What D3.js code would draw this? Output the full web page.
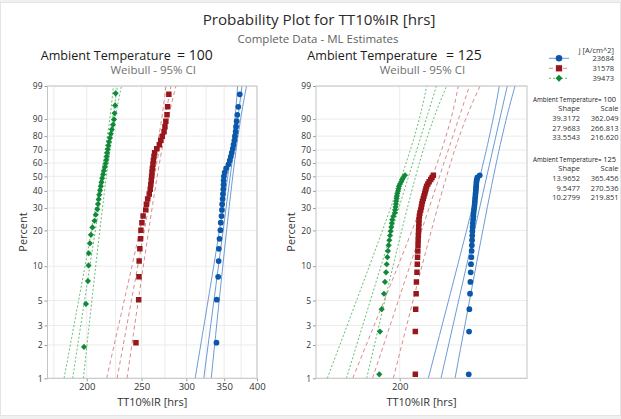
<!DOCTYPE html>
<html>
<head>
<meta charset="utf-8">
<script src="https://cdn.jsdelivr.net/npm/d3@7"></script>
<style>
    body { margin: 0; background: #f0f0f0; }
    text { font-family: "Open Sans", "Noto Sans", sans-serif; }
</style>
</head>
<body>
<script>
//current density groups (legend) and the two ambient temperatures (panels)
var currents = ["23684", "31578", "39473"];
var temps = [100, 125];

//fitted weibull parameters, one per current, as printed in the table
var shape100 = [39.3172, 27.9683, 33.5543];
var scale100 = [362.049, 266.813, 216.620];
var shape125 = [13.9652, 9.5477, 10.2799];
var scale125 = [365.456, 270.536, 219.851];

//failure times [hrs], sorted
var hrs100_23684 = [339.2, 339.6, 341.5, 342.2, 342.5, 343.4, 344.7, 345.2, 346.2, 346.8, 347.1,
    347.8, 348.2, 348.7, 349.0, 349.2, 349.6, 350.8, 352.8, 356.2, 358.0, 359.6, 361.0, 362.5,
    363.6, 364.8, 365.7, 366.7, 367.4, 368.2, 369.2, 370.6, 372.9];
var hrs100_31578 = [244.4, 247.1, 247.4, 247.6, 248.3, 249.0, 249.4, 250.4, 251.6, 254.3, 255.0,
    256.3, 258.0, 259.0, 259.6, 260.1, 260.5, 260.9, 261.3, 261.9, 262.4, 263.0, 263.7, 266.0,
    268.8, 270.3, 272.0, 274.0, 275.0, 276.0, 277.3, 278.0, 279.4];
var hrs100_39473 = [197.8, 199.4, 201.0, 201.5, 201.7, 202.6, 203.5, 204.7, 206.5, 207.5, 208.8,
    209.4, 210.0, 210.5, 211.2, 211.8, 212.4, 213.0, 213.8, 214.5, 215.3, 216.0, 216.6, 217.0,
    217.4, 217.9, 218.4, 219.0, 219.8, 220.6, 221.5, 222.6, 223.5, 224.0, 224.5, 225.0];

//at 125 only the first failures of 64 units are plotted
var units125 = 64;
var hrs125_23684 = [315.9, 316.6, 317.2, 318.6, 319.3, 320.0, 320.6, 321.4, 322.0, 322.5, 322.9,
    323.3, 323.6, 324.0, 324.5, 325.2, 325.8, 326.3, 327.0, 327.8, 328.5, 329.0, 329.4, 330.0,
    330.5, 331.0, 331.4, 331.8, 332.1, 332.5, 333.2, 334.5, 339.8];
var hrs125_31578 = [221.8, 221.8, 222.3, 223.0, 223.4, 224.2, 224.7, 225.1, 225.5, 225.8, 226.0,
    226.3, 226.6, 226.8, 227.1, 227.3, 227.8, 228.6, 229.8, 230.8, 231.6, 232.5, 233.8, 234.9,
    236.0, 237.0, 238.0, 239.0, 241.0, 243.0, 245.6, 247.7, 249.9];
var hrs125_39473 = [174.7, 175.5, 177.5, 180.2, 181.4, 182.7, 183.5, 184.3, 185.1, 185.9, 186.7,
    187.6, 188.4, 189.2, 189.8, 190.4, 191.7, 193.5, 194.0, 194.6, 195.0, 195.5, 195.9, 196.3,
    196.8, 197.8, 198.4, 199.0, 200.4, 202.0, 203.2, 204.8, 207.1];

//95% confidence bounds [hrs] read at these percents
var ciPct = [1, 50, 99];
var ci100Lo = [[311.0, 355.1, 369.6], [216.9, 260.1, 276.1], [182.4, 212.0, 223.0]];
var ci100Hi = [[332.0, 362.4, 383.3], [235.7, 266.5, 287.6], [197.3, 216.7, 230.4]];
var ci125Lo = [[241.7, 340.5, 386.8], [146.5, 248.5, 294.8], [123.8, 202.6, 239.2]];
var ci125Hi = [[288.5, 372.2, 429.2], [191.7, 272.7, 340.4], [160.7, 222.3, 273.0]];

//axis ticks
var yTicks = [1, 2, 3, 5, 10, 20, 30, 40, 50, 60, 70, 80, 90, 99];
var xTicks100 = [200, 250, 300, 350, 400];
var xGrid100 = [175, 200, 225, 250, 275, 300, 325, 350, 375, 400];
var xTicks125 = [200];
var xGrid125 = [200];

//styles per current
var dotColor = ["#0b57a8", "#97171c", "#11883a"];
var lineColor = ["#6b9bd6", "#d98b8b", "#62be6e"];
var lineDash = [null, "4,3", "2,2"];
var symbols = [d3.symbolCircle, d3.symbolSquare, d3.symbolSquare];
var symSize = [26, 30, 19];
var symRotate = [0, 0, 45];

var W = 621, H = 419;
var plotTop = 86, plotBottom = 378.3;

var svg = d3.select("body")
    .append("svg")
    .attr("width", W)
    .attr("height", H);

//window background and white chart area
svg.append("rect")
    .attr("width", W)
    .attr("height", H)
    .attr("fill", "#f0f0f0");
svg.append("rect")
    .attr("x", 0.5)
    .attr("y", 2.5)
    .attr("width", W - 1)
    .attr("height", 413)
    .attr("fill", "#fff")
    .attr("stroke", "#e4e4e4");

//titles
svg.append("text")
    .attr("x", 319)
    .attr("y", 25.3)
    .attr("text-anchor", "middle")
    .style("font-size", "15.2px")
    .style("fill", "#2b2b2b")
    .text("Probability Plot for TT10%IR [hrs]");
svg.append("text")
    .attr("x", 318)
    .attr("y", 42.5)
    .attr("text-anchor", "middle")
    .style("font-size", "11.5px")
    .style("fill", "#5f5f5f")
    .text("Complete Data - ML Estimates");

//weibull probability transform
function wp(p){
    return Math.log(-Math.log(1 - p / 100));
}

var y = d3.scaleLinear()
    .domain([wp(1), wp(99)])
    .range([plotBottom, plotTop]);

var panels = [
    {
        temp: temps[0], left: 47.5, right: 257, domain: [170.5, 400],
        ticks: xTicks100, grid: xGrid100,
        hrs: [hrs100_23684, hrs100_31578, hrs100_39473],
        shape: shape100, scale: scale100, lo: ci100Lo, hi: ci100Hi,
        titleX: 40.7, valueX: 212.7
    },
    {
        temp: temps[1], left: 316, right: 527, domain: [114.9, 464.6],
        ticks: xTicks125, grid: xGrid125,
        hrs: [hrs125_23684, hrs125_31578, hrs125_39473],
        shape: shape125, scale: scale125, lo: ci125Lo, hi: ci125Hi,
        units: units125,
        titleX: 307.3, valueX: 481.7
    }
];

panels.forEach(function(pn, k){
    var x = d3.scaleLog()
        .domain(pn.domain)
        .range([pn.left, pn.right]);
    var g = svg.append("g").attr("class", "panel");
    var mid = (pn.left + pn.right) / 2;

    //panel heading
    g.append("text")
        .attr("x", pn.titleX)
        .attr("y", 59.5)
        .style("font-size", "12.6px")
        .style("fill", "#1a1a1a")
        .text("Ambient Temperature");
    g.append("text")
        .attr("x", pn.valueX)
        .attr("y", 59.5)
        .attr("text-anchor", "end")
        .style("font-size", "14px")
        .style("fill", "#1a1a1a")
        .text("= " + pn.temp);
    g.append("text")
        .attr("x", mid + 1)
        .attr("y", 73.5)
        .attr("text-anchor", "middle")
        .style("font-size", "11.5px")
        .style("fill", "#707070")
        .text("Weibull - 95% CI");

    //gridlines
    g.selectAll(".ygrid")
        .data(yTicks)
        .enter()
        .append("line")
        .attr("x1", pn.left)
        .attr("x2", pn.right)
        .attr("y1", function(d){ return y(wp(d)); })
        .attr("y2", function(d){ return y(wp(d)); })
        .style("stroke", "#ececec");
    g.selectAll(".xgrid")
        .data(pn.grid)
        .enter()
        .append("line")
        .attr("x1", function(d){ return x(d); })
        .attr("x2", function(d){ return x(d); })
        .attr("y1", plotTop)
        .attr("y2", plotBottom)
        .style("stroke", "#ececec");

    //axes
    var yAxis = d3.axisLeft(y)
        .tickValues(yTicks.map(wp))
        .tickFormat(function(d, i){ return yTicks[i]; })
        .tickSize(3)
        .tickPadding(2);
    var ya = g.append("g")
        .attr("transform", "translate(" + pn.left + ",0)")
        .call(yAxis);
    ya.select(".domain").remove();
    ya.selectAll("line").style("stroke", "#9a9a9a");
    ya.selectAll("text")
        .style("font-size", "8.5px")
        .style("fill", "#333")
        .style("font-family", "'Open Sans', sans-serif");

    var xAxis = d3.axisBottom(x)
        .tickValues(pn.ticks)
        .tickFormat(d3.format("d"))
        .tickSize(3)
        .tickPadding(2);
    var xa = g.append("g")
        .attr("transform", "translate(0," + plotBottom + ")")
        .call(xAxis);
    xa.select(".domain").remove();
    xa.selectAll("line").style("stroke", "#9a9a9a");
    xa.selectAll("text")
        .style("font-size", "9.5px")
        .style("fill", "#333")
        .style("font-family", "'Open Sans', sans-serif");

    //axis titles
    g.append("text")
        .attr("x", mid)
        .attr("y", 406)
        .attr("text-anchor", "middle")
        .style("font-size", "11px")
        .style("fill", "#333")
        .text("TT10%IR [hrs]");
    g.append("text")
        .attr("transform", "translate(" + (pn.left - 21) + ",232) rotate(-90)")
        .attr("text-anchor", "middle")
        .style("font-size", "11px")
        .style("fill", "#333")
        .text("Percent");

    //clip to the plot area
    var clipId = "clip" + k;
    svg.append("clipPath")
        .attr("id", clipId)
        .append("rect")
        .attr("x", pn.left)
        .attr("y", plotTop)
        .attr("width", pn.right - pn.left)
        .attr("height", plotBottom - plotTop);
    var area = g.append("g").attr("clip-path", "url(#" + clipId + ")");

    var ciLine = d3.line()
        .x(function(d){ return x(d.t); })
        .y(function(d){ return y(wp(d.p)); })
        .curve(d3.curveNatural);

    currents.forEach(function(c, s){
        //fitted line from the weibull parameters
        var fit = [ciPct[0], ciPct[2]].map(function(p){
            return {p: p, t: pn.scale[s] * Math.pow(-Math.log(1 - p / 100), 1 / pn.shape[s])};
        });
        var bounds = [pn.lo[s], pn.hi[s]].map(function(arr){
            return arr.map(function(t, i){ return {p: ciPct[i], t: t}; });
        });
        [bounds[0], fit, bounds[1]].forEach(function(ln){
            area.append("path")
                .datum(ln)
                .attr("d", ciLine)
                .style("fill", "none")
                .style("stroke", lineColor[s])
                .style("stroke-width", 1)
                .style("stroke-dasharray", lineDash[s]);
        });
    });

    currents.forEach(function(c, s){
        var times = pn.hrs[s];
        var n = pn.units || times.length;
        //median rank plotting positions (Benard)
        area.selectAll(".pt" + s)
            .data(times)
            .enter()
            .append("path")
            .attr("class", "pt" + s)
            .attr("d", d3.symbol().type(symbols[s]).size(symSize[s]))
            .attr("transform", function(d, i){
                var p = (i + 0.7) / (n + 0.4) * 100;
                return "translate(" + x(d) + "," + y(wp(p)) + ") rotate(" + symRotate[s] + ")";
            })
            .style("fill", dotColor[s]);
    });

    //plot border
    g.append("rect")
        .attr("x", pn.left)
        .attr("y", plotTop)
        .attr("width", pn.right - pn.left)
        .attr("height", plotBottom - plotTop)
        .style("fill", "none")
        .style("stroke", "#c4c4c4");
});

//legend
var legend = svg.append("g").attr("class", "legend");
legend.append("text")
    .attr("x", 614)
    .attr("y", 52.5)
    .attr("text-anchor", "end")
    .style("font-size", "7.5px")
    .style("fill", "#333")
    .text("j [A/cm^2]");
currents.forEach(function(c, s){
    var ly = 58.3 + s * 10;
    legend.append("line")
        .attr("x1", 549)
        .attr("x2", 569)
        .attr("y1", ly)
        .attr("y2", ly)
        .style("stroke", lineColor[s])
        .style("stroke-dasharray", lineDash[s]);
    legend.append("path")
        .attr("d", d3.symbol().type(symbols[s]).size(symSize[s] * 1.3))
        .attr("transform", "translate(559," + ly + ") rotate(" + symRotate[s] + ")")
        .style("fill", dotColor[s]);
    legend.append("text")
        .attr("x", 614)
        .attr("y", ly + 2.7)
        .attr("text-anchor", "end")
        .style("font-size", "7.5px")
        .style("fill", "#333")
        .text(c);
});

//parameter table
var fmt3 = d3.format(".3f");
function fmtShape(v){
    //shape printed with 6 significant digits
    return d3.format(".6")(v);
}
[[shape100, scale100], [shape125, scale125]].forEach(function(par, k){
    var ty = 101.5 + k * 60;
    var tb = legend.append("text")
        .attr("x", 533)
        .attr("y", ty)
        .style("font-size", "6.3px")
        .style("fill", "#222");
    tb.append("tspan").text("Ambient Temperature= ");
    tb.append("tspan").style("font-size", "7.5px").text(temps[k]);
    legend.append("text")
        .attr("x", 580)
        .attr("y", ty + 9.5)
        .attr("text-anchor", "end")
        .style("font-size", "7.5px")
        .style("fill", "#333")
        .text("Shape");
    legend.append("text")
        .attr("x", 618.5)
        .attr("y", ty + 9.5)
        .attr("text-anchor", "end")
        .style("font-size", "7.5px")
        .style("fill", "#333")
        .text("Scale");
    par[0].forEach(function(v, s){
        legend.append("text")
            .attr("x", 580)
            .attr("y", ty + 19.5 + s * 9.5)
            .attr("text-anchor", "end")
            .style("font-size", "7.5px")
            .style("fill", "#333")
            .text(fmtShape(v));
        legend.append("text")
            .attr("x", 618.5)
            .attr("y", ty + 19.5 + s * 9.5)
            .attr("text-anchor", "end")
            .style("font-size", "7.5px")
            .style("fill", "#333")
            .text(fmt3(par[1][s]));
    });
});
</script>
</body>
</html>
